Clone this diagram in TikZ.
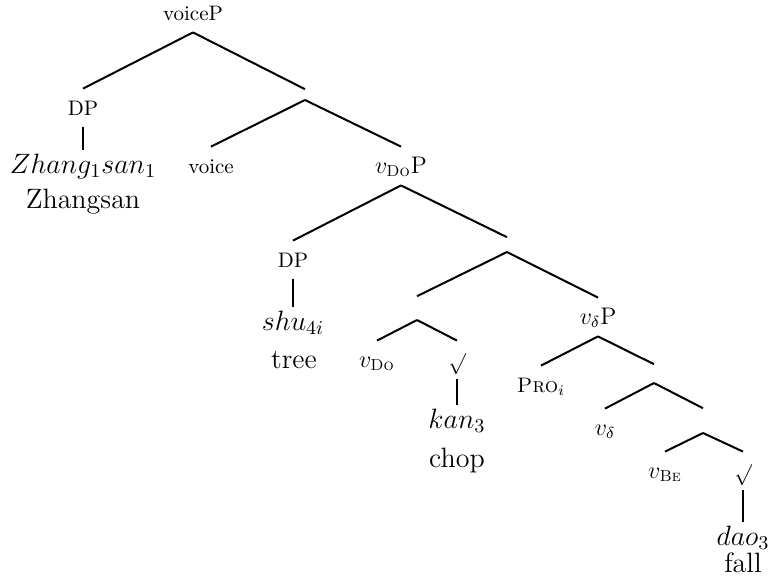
\documentclass[tikz,border=0pt]{standalone}
\usepackage{fix-cm}
\usepackage{amsmath}
\usepackage{fontspec}
\usepackage{tikz}
\usetikzlibrary{positioning}

\tikzset{
    lab/.style={font=\fontsize{10.5}{12}\selectfont, anchor=base, inner xsep=0pt, inner ysep=4pt, text height=9pt, text depth=2pt},
    mlab/.style={lab, font=\fontsize{12}{14}\selectfont},
    word/.style={font=\fontsize{14}{17}\selectfont, anchor=base, inner xsep=0pt, inner ysep=0pt, text height=11.5pt, text depth=3pt},
    knot/.style={anchor=south, inner sep=0pt, minimum width=0pt},
    branch/.style={line width=1pt}
}

\begin{document}
\begin{tikzpicture}[x=0.5pt, y=-0.5pt]
    \useasboundingbox (0,0) rectangle (771,585);

    % Top of the tree
    \node[lab] (voicep) at (193,20) {voiceP};
    \node[lab] (dpz) at (83,115) {DP};
    \node[knot, minimum height=5pt] (ka) at (305,100) {};
    \node[word] (zhang) at (83,173) {$Zhang_1san_1$};
    \node[word] (zhangsan) at (83,208) {Zhangsan};
    \node[lab] (voice) at (211,173) {voice};
    \node[mlab] (vdop) at (401,173) {$v_{\textsc{Do}}$P};

    % Object and lower shell
    \node[lab] (dpshu) at (293,267) {DP};
    \node[word] (shu) at (293,330) {$shu_{4i}$};
    \node[word] (tree) at (294,368) {tree};
    \node[knot, minimum height=7pt] (kb) at (507,252) {};
    \node[knot, minimum height=11.5pt] (kc) at (417,320) {};
    \node[mlab] (vdo) at (377,367) {$v_{\textsc{Do}}$};
    \node[lab] (rootkan) at (457,367) {\raisebox{-1pt}{$\surd$}};
    \node[word] (kan) at (457,428) {$kan_3$};
    \node[word] (chop) at (457,467) {chop};

    % Result part
    \node[mlab] (vdeltap) at (598,324) {$v_\delta$P};
    \node[lab] (pro) at (541,392) {\textsc{Pro}$_i$};
    \node[knot, minimum height=9pt] (kd) at (654,383) {};
    \node[mlab] (vdelta) at (605,435) {$v_\delta$};
    \node[knot, minimum height=12pt] (ke) at (703,433) {};
    \node[mlab] (vbe) at (665,478) {$v_{\textsc{Be}}$};
    \node[lab] (rootdao) at (743,478) {\raisebox{-1pt}{$\surd$}};
    \node[word] (dao) at (743,545) {$dao_3$};
    \node[word] (fall) at (743,572) {fall};

    % Branches
    \draw[branch] (voicep.south) -- (dpz.north);
    \draw[branch] (voicep.south) -- (ka.north);
    \draw[branch] (dpz.south) -- (zhang.north);
    \draw[branch] (ka.south) -- (voice.north);
    \draw[branch] (ka.south) -- (vdop.north);
    \draw[branch] (vdop.south) -- (dpshu.north);
    \draw[branch] (vdop.south) -- (kb.north);
    \draw[branch] (dpshu.south) -- (shu.north);
    \draw[branch] (kb.south) -- (kc.north);
    \draw[branch] (kb.south) -- (vdeltap.north);
    \draw[branch] (kc.south) -- (vdo.north);
    \draw[branch] (kc.south) -- (rootkan.north);
    \draw[branch] (rootkan.south) -- (kan.north);
    \draw[branch] (vdeltap.south) -- (pro.north);
    \draw[branch] (vdeltap.south) -- (kd.north);
    \draw[branch] (kd.south) -- (vdelta.north);
    \draw[branch] (kd.south) -- (ke.north);
    \draw[branch] (ke.south) -- (vbe.north);
    \draw[branch] (ke.south) -- (rootdao.north);
    \draw[branch] (rootdao.south) -- (dao.north);
\end{tikzpicture}
\end{document}
